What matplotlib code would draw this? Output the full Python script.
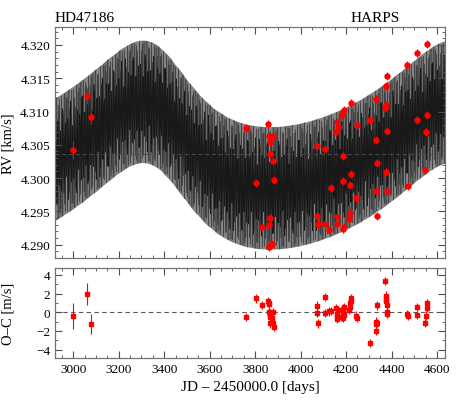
import numpy as np
import matplotlib
matplotlib.use("Agg")
import matplotlib.pyplot as plt
from matplotlib.ticker import MultipleLocator

plt.rcParams['font.family'] = ['Liberation Serif', 'DejaVu Serif']
plt.rcParams['mathtext.fontset'] = 'stix'

# ---------------- data ----------------
jd = [3000, 3061.5, 3076.5,
      3762, 3806, 3829.5,
      3858, 3861.5, 3862.4, 3863, 3863.7, 3865.5, 3866, 3867.7, 3876.5, 3879, 3879.5, 3883,
      4072.5, 4073, 4076.5,
      4107, 4108.5,
      4126, 4133,
      4157, 4160.5, 4161, 4162, 4165,
      4184, 4187, 4187.5, 4188, 4188.5, 4190, 4192,
      4215, 4217, 4218.5, 4220.5, 4221,
      4244, 4248,
      4304,
      4330.5, 4333, 4333.5, 4334, 4335,
      4372, 4374, 4374.5, 4377, 4380, 4380.5, 4381,
      4470, 4471,
      4510, 4514,
      4547, 4550, 4555, 4555.5]

rv = [4.30421, 4.31235, 4.30920,
      4.30746, 4.29921, 4.29273,
      4.30806, 4.28966, 4.29296, 4.30635, 4.30356, 4.29401, 4.29000, 4.30544, 4.29003, 4.30635, 4.30260, 4.29975,
      4.30485, 4.29438, 4.29311,
      4.29308, 4.30436,
      4.29218, 4.29853,
      4.30698, 4.30845, 4.29411, 4.29306, 4.30773,
      4.30946, 4.29236, 4.30998, 4.29960, 4.30334, 4.29273, 4.31021,
      4.29386, 4.29903, 4.29476, 4.31133, 4.30061,
      4.29696, 4.30800,
      4.30878,
      4.29810, 4.30578, 4.31186, 4.30226, 4.29426,
      4.31051, 4.31385, 4.30094, 4.31096, 4.31538, 4.30706, 4.29806,
      4.31700, 4.29885,
      4.31882, 4.30874,
      4.30118, 4.30698, 4.32008, 4.30945]

rv_err = [0.0014, 0.0012, 0.0011] + [0.0006] * 62

oc = [-0.40, 1.96, -1.28,
      -0.53, 1.50, 0.78,
      1.18, 0.96, 0.89, 0.05, -0.53, -1.18, -0.10, -0.30, -0.61, 0.00, -1.18, -1.60,
      0.71, -0.04, -1.18,
      1.67, -0.07,
      0.10, 0.17,
      0.46, -0.18, -0.47, -0.71, 0.20,
      -0.53, -0.60, -0.10, 0.25, 0.40, 0.60, -0.25,
      0.25, 0.53, 1.00, 1.25, 1.50,
      -0.35, -0.60,
      -3.30,
      -2.00, -1.00, -1.30, 0.75, -1.15,
      3.38, 1.79, 1.44, 1.25, 0.82, 0.07, -0.14,
      -0.18, -0.36,
      0.60, -0.29,
      -1.14, -0.36, 0.46, 0.96]

oc_err = [1.40, 1.15, 1.05] + [0.45] * 62

# ---------------- orbital model parameters ----------------
GAMMA = 4.3036      # km/s
P1, K1, T1 = 4.0845, 9.2, 3000.3          # inner planet (circular), K in m/s
P2, K2, E2, W2, TP2 = 1353.6, 6.5, 0.249, np.radians(33.0), 3382.0

def kepler_rv(t, P, K, e, w, tp):
    M = 2 * np.pi * (t - tp) / P
    E = M.copy()
    for _ in range(30):
        E = E - (E - e * np.sin(E) - M) / (1 - e * np.cos(E))
    nu = 2 * np.arctan2(np.sqrt(1 + e) * np.sin(E / 2), np.sqrt(1 - e) * np.cos(E / 2))
    return K * (np.cos(nu + w) + e * np.cos(w))

def model_rv(t):
    return (GAMMA
            + 1e-3 * K1 * np.sin(2 * np.pi * (t - T1) / P1)
            + 1e-3 * kepler_rv(t, P2, K2, E2, W2, TP2))

t_fine = np.arange(2920.0, 4636.0, P1 / 12.0)
t_coarse = np.arange(2920.0, 4636.0, P1 * 0.381966)

# ---------------- figure ----------------
fig = plt.figure(figsize=(4.64, 4.10), dpi=100)
ax1 = fig.add_axes([0.1185, 0.3683, 0.8405, 0.5634])
ax2 = fig.add_axes([0.1185, 0.1244, 0.8405, 0.2195])

ax1.plot(t_fine, model_rv(t_fine), color='0.4', lw=0.3, alpha=0.95, zorder=1)
ax1.plot(t_coarse, model_rv(t_coarse), color='black', lw=0.4, alpha=0.8, zorder=1.5)
ax1.axhline(GAMMA, color='0.3', ls=(0, (4, 3)), lw=0.7, zorder=2)
ax1.errorbar(jd, rv, yerr=rv_err, fmt='o', color='red', ms=3.6, mec='red',
             elinewidth=0.8, capsize=0, zorder=3)

ax1.set_xlim(2920, 4635)
ax1.set_ylim(4.288, 4.3227)
ax1.set_ylabel('RV [km/s]', fontsize=10.5)
ax1.yaxis.set_label_coords(-0.105, 0.5)
ax1.xaxis.set_major_locator(MultipleLocator(200))
ax1.xaxis.set_minor_locator(MultipleLocator(50))
ax1.yaxis.set_major_locator(MultipleLocator(0.005))
ax1.yaxis.set_minor_locator(MultipleLocator(0.001))
ax1.yaxis.set_major_formatter(matplotlib.ticker.FormatStrFormatter('%.3f'))
ax1.tick_params(labelbottom=False)
ax1.text(0.0, 1.012, 'HD47186', transform=ax1.transAxes, ha='left', va='bottom', fontsize=11)
ax1.text(0.885, 1.012, 'HARPS', transform=ax1.transAxes, ha='right', va='bottom', fontsize=11)

ax2.axhline(0, color='0.35', ls=(0, (4, 3)), lw=0.8, zorder=1)
ax2.errorbar(jd, oc, yerr=oc_err, fmt='s', color='red', ms=2.2, mec='red',
             elinewidth=0.8, capsize=0, zorder=3)
ax2.set_xlim(2920, 4635)
ax2.set_ylim(-4.9, 4.75)
ax2.set_ylabel('O\u2013C [m/s]', fontsize=10.5)
ax2.yaxis.set_label_coords(-0.105, 0.5)
ax2.set_xlabel('JD \u2013 2450000.0 [days]', fontsize=11)
ax2.xaxis.set_major_locator(MultipleLocator(200))
ax2.xaxis.set_minor_locator(MultipleLocator(50))
ax2.yaxis.set_major_locator(MultipleLocator(2))
ax2.yaxis.set_minor_locator(MultipleLocator(1))

for ax in (ax1, ax2):
    ax.tick_params(which='both', direction='in', top=True, right=True, labelsize=9.5, color='0.3')
    ax.tick_params(which='major', length=5, width=0.8)
    ax.tick_params(which='minor', length=2.5, width=0.6)
    for s in ax.spines.values():
        s.set_color('0.45')
        s.set_linewidth(0.9)

fig.savefig('out.png', dpi=100)
